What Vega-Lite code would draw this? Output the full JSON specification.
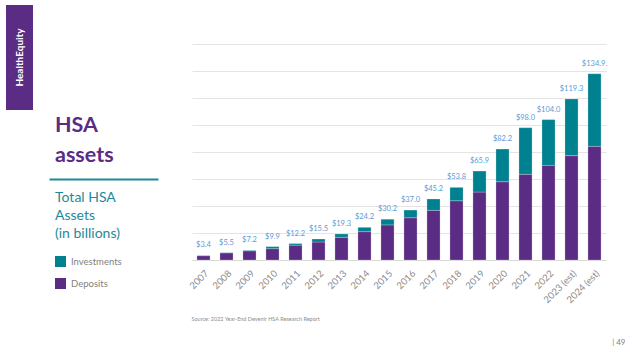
{
  "$schema": "https://vega.github.io/schema/vega-lite/v6.json",
  "padding": {"left": 6, "top": 5, "right": 0, "bottom": 0},
  "background": "white",
  "config": {
    "font": "Lato",
    "view": {"stroke": null}
  },
  "datasets": {
    "assets": [
      {"year": "2007", "type": "Deposits", "value": 3.2, "label": "$3.4"},
      {"year": "2007", "type": "Investments", "value": 0.2, "label": "$3.4"},
      {"year": "2008", "type": "Deposits", "value": 5.3, "label": "$5.5"},
      {"year": "2008", "type": "Investments", "value": 0.2, "label": "$5.5"},
      {"year": "2009", "type": "Deposits", "value": 6.8, "label": "$7.2"},
      {"year": "2009", "type": "Investments", "value": 0.4, "label": "$7.2"},
      {"year": "2010", "type": "Deposits", "value": 8.4, "label": "$9.9"},
      {"year": "2010", "type": "Investments", "value": 1.5, "label": "$9.9"},
      {"year": "2011", "type": "Deposits", "value": 11.0, "label": "$12.2"},
      {"year": "2011", "type": "Investments", "value": 1.2, "label": "$12.2"},
      {"year": "2012", "type": "Deposits", "value": 13.3, "label": "$15.5"},
      {"year": "2012", "type": "Investments", "value": 2.2, "label": "$15.5"},
      {"year": "2013", "type": "Deposits", "value": 16.8, "label": "$19.3"},
      {"year": "2013", "type": "Investments", "value": 2.5, "label": "$19.3"},
      {"year": "2014", "type": "Deposits", "value": 21.0, "label": "$24.2"},
      {"year": "2014", "type": "Investments", "value": 3.2, "label": "$24.2"},
      {"year": "2015", "type": "Deposits", "value": 26.0, "label": "$30.2"},
      {"year": "2015", "type": "Investments", "value": 4.2, "label": "$30.2"},
      {"year": "2016", "type": "Deposits", "value": 31.3, "label": "$37.0"},
      {"year": "2016", "type": "Investments", "value": 5.7, "label": "$37.0"},
      {"year": "2017", "type": "Deposits", "value": 36.8, "label": "$45.2"},
      {"year": "2017", "type": "Investments", "value": 8.4, "label": "$45.2"},
      {"year": "2018", "type": "Deposits", "value": 43.9, "label": "$53.8"},
      {"year": "2018", "type": "Investments", "value": 9.9, "label": "$53.8"},
      {"year": "2019", "type": "Deposits", "value": 50.3, "label": "$65.9"},
      {"year": "2019", "type": "Investments", "value": 15.6, "label": "$65.9"},
      {"year": "2020", "type": "Deposits", "value": 58.0, "label": "$82.2"},
      {"year": "2020", "type": "Investments", "value": 24.2, "label": "$82.2"},
      {"year": "2021", "type": "Deposits", "value": 63.5, "label": "$98.0"},
      {"year": "2021", "type": "Investments", "value": 34.5, "label": "$98.0"},
      {"year": "2022", "type": "Deposits", "value": 70.1, "label": "$104.0"},
      {"year": "2022", "type": "Investments", "value": 33.9, "label": "$104.0"},
      {"year": "2023 (est)", "type": "Deposits", "value": 77.3, "label": "$119.3"},
      {"year": "2023 (est)", "type": "Investments", "value": 42.0, "label": "$119.3"},
      {"year": "2024 (est)", "type": "Deposits", "value": 84.2, "label": "$134.9."},
      {"year": "2024 (est)", "type": "Investments", "value": 53.8, "label": "$134.9."}
    ]
  },
  "bounds": "flush",
  "spacing": 16,
  "hconcat": [
    {
      "width": 27,
      "height": 105,
      "view": {"fill": "#5B2C83", "stroke": null},
      "data": {"values": [{"k": 0}]},
      "title": {
        "text": "HealthEquity",
        "orient": "left",
        "anchor": "middle",
        "offset": -19,
        "color": "white",
        "fontSize": 10,
        "fontWeight": "bold",
        "font": "Lato"
      },
      "mark": {"type": "rect", "color": "#5B2C83"},
      "encoding": {}
    },
    {
      "width": 127,
      "height": 174,
      "data": {"values": [{"k": 0}]},
      "title": {
        "text": ["HSA", "assets"],
        "orient": "top",
        "anchor": "start",
        "frame": "group",
        "baseline": "top",
        "offset": 0,
        "dx": 6,
        "dy": 161,
        "lineHeight": 30,
        "fontSize": 21.5,
        "fontWeight": "bold",
        "color": "#5B2C83",
        "font": "Lato"
      },
      "mark": {"type": "text"},
      "encoding": {
        "x": {
          "datum": 0,
          "type": "quantitative",
          "scale": {"range": [0, 109]},
          "axis": {
            "orient": "bottom",
            "domain": true,
            "domainColor": "#1D8A99",
            "domainWidth": 2,
            "labels": false,
            "ticks": false,
            "grid": false,
            "title": null
          }
        },
        "text": {"value": ""}
      }
    },
    {
      "width": 414,
      "height": 255,
      "data": {"name": "assets"},
      "layer": [
        {
          "mark": {"type": "bar", "stroke": "#ffffff", "strokeWidth": 0.4, "strokeOpacity": 0.6},
          "encoding": {
            "x": {
              "field": "year",
              "type": "nominal",
              "sort": null,
              "scale": {"paddingInner": 0.43, "paddingOuter": 0.215},
              "axis": {
                "labelAngle": -45,
                "labelFontSize": 9.5,
                "labelColor": "#8c8c8c",
                "labelPadding": 8,
                "ticks": false,
                "domainColor": "#d9d9d9",
                "title": "Source: 2022 Year-End Devenir HSA Research Report",
                "titleFontSize": 5.5,
                "titleFontWeight": "normal",
                "titleColor": "#8c8c8c",
                "titleAnchor": "start",
                "titleAlign": "left",
                "titleBaseline": "top",
                "titleX": -1,
                "titleY": 56
              }
            },
            "y": {
              "field": "value",
              "type": "quantitative",
              "scale": {"domain": [0, 188.9], "nice": false},
              "axis": {
                "orient": "right",
                "values": [0, 20, 40, 60, 80, 100, 120, 140, 160],
                "grid": true,
                "gridColor": "#e4e4e4",
                "gridWidth": 1,
                "labels": false,
                "ticks": false,
                "domain": false,
                "title": "| 49",
                "titleAngle": 0,
                "titleAlign": "right",
                "titleBaseline": "middle",
                "titleX": 19,
                "titleY": 337,
                "titleFontSize": 8,
                "titleFontWeight": "normal",
                "titleColor": "#7f7f7f"
              }
            },
            "color": {
              "field": "type",
              "type": "nominal",
              "scale": {"domain": ["Investments", "Deposits"], "range": ["#00818F", "#5B2C83"]},
              "legend": {
                "orient": "none",
                "legendX": 49,
                "legendY": 186,
                "title": ["Total HSA", "Assets", "(in billions)"],
                "titleFontSize": 14,
                "titleFontWeight": "normal",
                "titleColor": "#1D8A99",
                "titleLineHeight": 18,
                "titlePadding": 15,
                "symbolType": "square",
                "symbolSize": 121,
                "symbolStrokeWidth": 0,
                "symbolOpacity": 1,
                "labelFontSize": 9.5,
                "labelColor": "#7f7f7f",
                "labelOffset": 5,
                "rowPadding": 11,
                "padding": 0
              }
            },
            "order": {"field": "type", "sort": "ascending"}
          }
        },
        {
          "mark": {"type": "text", "baseline": "bottom", "dy": -6, "fontSize": 7.5, "color": "#5B9BD5"},
          "encoding": {
            "x": {"field": "year", "type": "nominal", "sort": null},
            "y": {
              "aggregate": "sum",
              "field": "value",
              "type": "quantitative",
              "axis": {
                "orient": "right",
                "values": [0, 20, 40, 60, 80, 100, 120, 140, 160],
                "grid": true,
                "gridColor": "#e4e4e4",
                "gridWidth": 1,
                "labels": false,
                "ticks": false,
                "domain": false,
                "title": "| 49",
                "titleAngle": 0,
                "titleAlign": "right",
                "titleBaseline": "middle",
                "titleX": 19,
                "titleY": 337,
                "titleFontSize": 8,
                "titleFontWeight": "normal",
                "titleColor": "#7f7f7f"
              }
            },
            "text": {"field": "label"}
          }
        }
      ]
    }
  ]
}
